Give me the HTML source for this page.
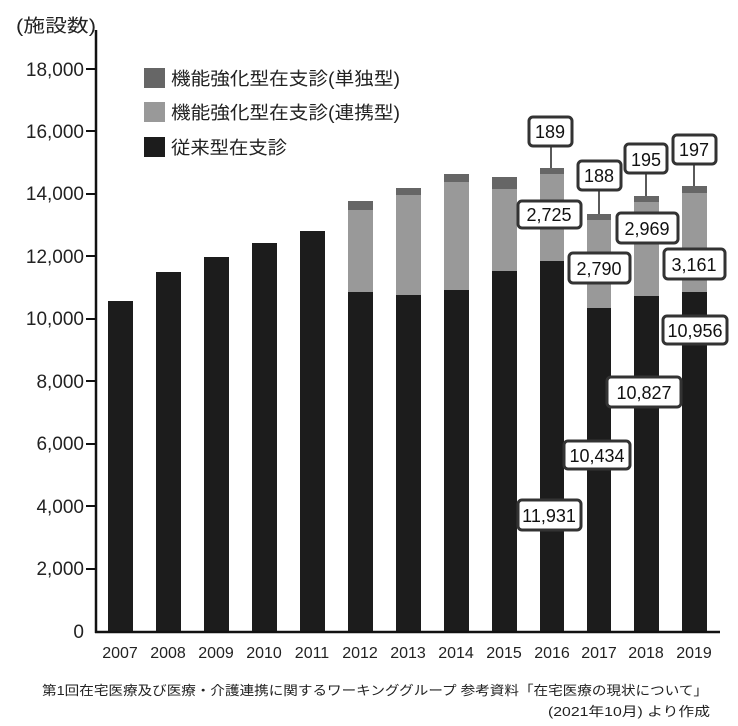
<!DOCTYPE html>
<html><head><meta charset="utf-8"><style>
html,body{margin:0;padding:0;background:#fff;}
svg{display:block;font-family:"Liberation Sans","Noto Sans CJK JP",sans-serif;}
</style></head><body>
<svg width="738" height="726" viewBox="0 0 738 726" xmlns="http://www.w3.org/2000/svg">
<text x="16" y="32" font-size="18" fill="#222" textLength="80" lengthAdjust="spacingAndGlyphs">(施設数)</text>
<g fill="#222" font-size="19" text-anchor="end">
<text x="84" y="76">18,000</text><text x="84" y="138">16,000</text><text x="84" y="200">14,000</text>
<text x="84" y="263">12,000</text><text x="84" y="325">10,000</text><text x="84" y="388">8,000</text>
<text x="84" y="450">6,000</text><text x="84" y="513">4,000</text><text x="84" y="575">2,000</text>
<text x="84" y="638">0</text></g>
<g stroke="#111" stroke-width="2">
<line x1="86" y1="69" x2="96" y2="69"/><line x1="86" y1="131" x2="96" y2="131"/><line x1="86" y1="194" x2="96" y2="194"/>
<line x1="86" y1="256" x2="96" y2="256"/><line x1="86" y1="319" x2="96" y2="319"/><line x1="86" y1="381" x2="96" y2="381"/>
<line x1="86" y1="444" x2="96" y2="444"/><line x1="86" y1="506" x2="96" y2="506"/><line x1="86" y1="569" x2="96" y2="569"/>
</g>
<g>
<rect x="108" y="301" width="25" height="331" fill="#1c1c1c"/>
<rect x="156" y="272" width="25" height="360" fill="#1c1c1c"/>
<rect x="204" y="257" width="25" height="375" fill="#1c1c1c"/>
<rect x="252" y="243" width="25" height="389" fill="#1c1c1c"/>
<rect x="300" y="231" width="25" height="401" fill="#1c1c1c"/>
<rect x="348" y="201" width="25" height="9" fill="#666"/><rect x="348" y="210" width="25" height="82" fill="#999"/><rect x="348" y="292" width="25" height="340" fill="#1c1c1c"/>
<rect x="396" y="188" width="25" height="7" fill="#666"/><rect x="396" y="195" width="25" height="100" fill="#999"/><rect x="396" y="295" width="25" height="337" fill="#1c1c1c"/>
<rect x="444" y="174" width="25" height="8" fill="#666"/><rect x="444" y="182" width="25" height="108" fill="#999"/><rect x="444" y="290" width="25" height="342" fill="#1c1c1c"/>
<rect x="492" y="177" width="25" height="12" fill="#666"/><rect x="492" y="189" width="25" height="82" fill="#999"/><rect x="492" y="271" width="25" height="361" fill="#1c1c1c"/>
<rect x="540" y="168" width="24" height="6" fill="#666"/><rect x="540" y="174" width="24" height="87" fill="#999"/><rect x="540" y="261" width="24" height="371" fill="#1c1c1c"/>
<rect x="587" y="214" width="24" height="6" fill="#666"/><rect x="587" y="220" width="24" height="88" fill="#999"/><rect x="587" y="308" width="24" height="324" fill="#1c1c1c"/>
<rect x="634" y="196" width="25" height="6" fill="#666"/><rect x="634" y="202" width="25" height="94" fill="#999"/><rect x="634" y="296" width="25" height="336" fill="#1c1c1c"/>
<rect x="682" y="186" width="25" height="7" fill="#666"/><rect x="682" y="193" width="25" height="99" fill="#999"/><rect x="682" y="292" width="25" height="340" fill="#1c1c1c"/>
</g>
<line x1="96" y1="30" x2="96" y2="633" stroke="#111" stroke-width="2.5"/>
<line x1="95" y1="632" x2="720" y2="632" stroke="#111" stroke-width="2.5"/>
<g fill="#222" font-size="16" text-anchor="middle">
<text x="120" y="658">2007</text><text x="168" y="658">2008</text><text x="216" y="658">2009</text><text x="264" y="658">2010</text>
<text x="312" y="658">2011</text><text x="360" y="658">2012</text><text x="408" y="658">2013</text><text x="456" y="658">2014</text>
<text x="504" y="658">2015</text><text x="552" y="658">2016</text><text x="599" y="658">2017</text><text x="646" y="658">2018</text><text x="694" y="658">2019</text>
</g>
<rect x="144" y="68" width="21" height="20" fill="#666"/>
<rect x="144" y="102" width="21" height="20" fill="#999"/>
<rect x="144" y="137" width="21" height="20" fill="#1c1c1c"/>
<g fill="#222" font-size="18">
<text x="171" y="85" textLength="229" lengthAdjust="spacingAndGlyphs">機能強化型在支診(単独型)</text>
<text x="171" y="119" textLength="229" lengthAdjust="spacingAndGlyphs">機能強化型在支診(連携型)</text>
<text x="171" y="154" textLength="116" lengthAdjust="spacingAndGlyphs">従来型在支診</text>
</g>
<g stroke="#222" stroke-width="1.5">
<line x1="551" y1="146" x2="551" y2="168"/>
<line x1="599" y1="190" x2="599" y2="214"/>
<line x1="646" y1="173" x2="646" y2="196"/>
<line x1="694" y1="164" x2="694" y2="186"/>
</g>
<g fill="#fff" stroke="#333" stroke-width="3">
<rect x="529" y="117" width="43" height="29" rx="4"/>
<rect x="518" y="201" width="63" height="27" rx="4"/>
<rect x="578" y="161" width="43" height="29" rx="4"/>
<rect x="569" y="253" width="61" height="30" rx="4"/>
<rect x="625" y="144" width="42" height="29" rx="4"/>
<rect x="617" y="213" width="61" height="30" rx="4"/>
<rect x="673" y="135" width="43" height="29" rx="4"/>
<rect x="664" y="249" width="61" height="30" rx="4"/>
<rect x="663" y="316" width="64" height="28" rx="4"/>
<rect x="607" y="377" width="74" height="30" rx="4"/>
<rect x="564" y="441" width="66" height="28" rx="4"/>
<rect x="518" y="500" width="63" height="30" rx="4"/>
</g>
<g fill="#111" font-size="18" text-anchor="middle">
<text x="550" y="138">189</text>
<text x="549" y="221">2,725</text>
<text x="599" y="182">188</text>
<text x="599" y="275">2,790</text>
<text x="646" y="166">195</text>
<text x="647" y="235">2,969</text>
<text x="694" y="156">197</text>
<text x="694" y="271">3,161</text>
<text x="695" y="337">10,956</text>
<text x="644" y="399">10,827</text>
<text x="597" y="462">10,434</text>
<text x="549" y="522">11,931</text>
</g>
<g fill="#222" font-size="13">
<text x="42" y="695" textLength="666" lengthAdjust="spacingAndGlyphs">第1回在宅医療及び医療・介護連携に関するワーキンググループ 参考資料「在宅医療の現状について」</text>
<text x="548" y="716" textLength="162" lengthAdjust="spacingAndGlyphs">(2021年10月) より作成</text>
</g>
</svg>
</body></html>
